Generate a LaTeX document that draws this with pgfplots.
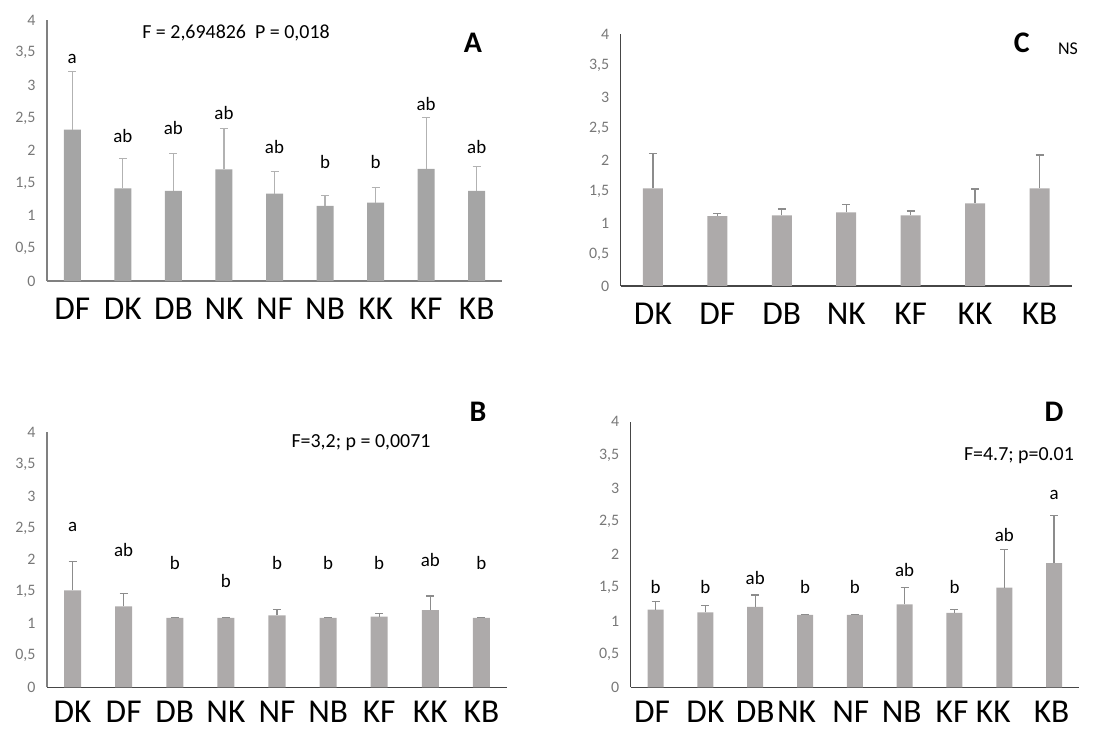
\documentclass[border=0pt]{standalone}
\usepackage{fontspec}
\setmainfont{Carlito}
\usepackage{pgfplots}
\pgfplotsset{compat=1.18}
\definecolor{barA}{RGB}{165,165,165}
\definecolor{barB}{RGB}{173,170,170}
\definecolor{errA}{RGB}{178,178,178}
\definecolor{errB}{RGB}{140,140,140}
\definecolor{axA}{RGB}{128,128,128}
\definecolor{axB}{RGB}{70,70,70}
\definecolor{tickc}{RGB}{120,120,120}
\tikzset{lab/.style={font=\fontsize{19}{22}\selectfont, anchor=center, inner sep=0pt}}
\pgfplotsset{
  panel/.style={
    scale only axis, clip=false,
    ymin=0, ymax=4,
    ytick={0,0.5,1,1.5,2,2.5,3,3.5,4},
    yticklabels={0,{0,5},1,{1,5},2,{2,5},3,{3,5},4},
    axis x line*=bottom, axis y line*=left,
    major tick length=0pt,
    enlarge x limits=false,
    yticklabel style={font=\fontsize{16}{18}\selectfont, text=tickc, xshift=-8bp},
    xticklabel style={font=\fontsize{33.5}{38}\selectfont, text=black, inner sep=0pt, text depth=0pt, yshift=-17bp},
    ybar, bar shift=0pt,
    /pgf/number format/assume math mode=true,
  },
  errs/.style={
    error bars/.cd, y dir=plus, y explicit,
    error bar style={line width=1.3bp, draw=#1},
    error mark options={rotate=90, mark size=4bp, line width=1.3bp, draw=#1},
  },
}
\begin{document}
\begin{tikzpicture}[x=1bp,y=1bp]
\path[use as bounding box] (0,0) rectangle (1109,731);

% ---------------- Panel A
\begin{axis}[panel, at={(47bp,450bp)}, anchor=south west,
  width=455bp, height=261bp,
  xmin=-0.5, xmax=8.5, xtick={0,...,8},
  xticklabels={DF,DK,DB,NK,NF,NB,KK,KF,KB},
  x axis line style={draw=axA, line width=1.3bp},
  y axis line style={draw=axA, line width=1.3bp},
  bar width=17bp]
\addplot[fill=barA, draw=none, errs=errA] coordinates {
 (0,2.32) +- (0,0.89)
 (1,1.42) +- (0,0.46)
 (2,1.38) +- (0,0.57)
 (3,1.71) +- (0,0.63)
 (4,1.34) +- (0,0.34)
 (5,1.15) +- (0,0.16)
 (6,1.20) +- (0,0.23)
 (7,1.72) +- (0,0.79)
 (8,1.38) +- (0,0.37)
};
\node[lab] at (axis cs:0,3.41) {a};
\node[lab] at (axis cs:1,2.22) {ab};
\node[lab] at (axis cs:2,2.35) {ab};
\node[lab] at (axis cs:3,2.58) {ab};
\node[lab] at (axis cs:4,2.06) {ab};
\node[lab] at (axis cs:5,1.83) {b};
\node[lab] at (axis cs:6,1.83) {b};
\node[lab] at (axis cs:7,2.72) {ab};
\node[lab] at (axis cs:8,2.06) {ab};
\end{axis}
\node[font=\fontsize{20}{24}\selectfont, inner sep=0pt] at (236,698) {F = 2,694826\ \ P = 0,018};
\node[font=\fontsize{30}{34}\selectfont\bfseries, inner sep=0pt] at (473,688) {A};

% ---------------- Panel C
\begin{axis}[panel, at={(620.7bp,445bp)}, anchor=south west,
  width=451bp, height=252bp,
  xmin=-0.5, xmax=6.5, xtick={0,...,6},
  xticklabels={DK,DF,DB,NK,KF,KK,KB},
  x axis line style={draw=axB, line width=1.2bp},
  y axis line style={draw=axB, line width=1.2bp},
  bar width=20bp]
\addplot[fill=barB, draw=none, errs=errB] coordinates {
 (0,1.55) +- (0,0.55)
 (1,1.11) +- (0,0.04)
 (2,1.12) +- (0,0.10)
 (3,1.17) +- (0,0.12)
 (4,1.12) +- (0,0.07)
 (5,1.31) +- (0,0.23)
 (6,1.55) +- (0,0.53)
};
\end{axis}
\node[font=\fontsize{30}{34}\selectfont\bfseries, inner sep=0pt] at (1021.7,688) {C};
\node[font=\fontsize{18}{20}\selectfont, inner sep=0pt] at (1068,682) {NS};

% ---------------- Panel B
\begin{axis}[panel, at={(47bp,43.7bp)}, anchor=south west,
  width=460bp, height=255bp,
  xmin=-0.5, xmax=8.5, xtick={0,...,8},
  xticklabels={DK,DF,DB,NK,NF,NB,KF,KK,KB},
  xticklabel style={yshift=3bp},
  x axis line style={draw=axB, line width=1.2bp},
  y axis line style={draw=axA, line width=1.2bp},
  bar width=17bp]
\addplot[fill=barB, draw=none, errs=errB] coordinates {
 (0,1.52) +- (0,0.45)
 (1,1.27) +- (0,0.20)
 (2,1.09) +- (0,0)
 (3,1.09) +- (0,0)
 (4,1.13) +- (0,0.09)
 (5,1.09) +- (0,0)
 (6,1.11) +- (0,0.05)
 (7,1.21) +- (0,0.22)
 (8,1.09) +- (0,0)
};
\node[lab] at (axis cs:0,2.52) {a};
\node[lab] at (axis cs:1,2.16) {ab};
\node[lab] at (axis cs:2,1.95) {b};
\node[lab] at (axis cs:3,1.66) {b};
\node[lab] at (axis cs:4,1.95) {b};
\node[lab] at (axis cs:5,1.95) {b};
\node[lab] at (axis cs:6,1.95) {b};
\node[lab] at (axis cs:7,2.00) {ab};
\node[lab] at (axis cs:8,1.95) {b};
\end{axis}
\node[font=\fontsize{30}{34}\selectfont\bfseries, inner sep=0pt] at (478,319) {B};
\node[font=\fontsize{20}{24}\selectfont, inner sep=0pt] at (361,288) {F=3,2; p = 0,0071};

% ---------------- Panel D
\begin{axis}[panel, at={(630.7bp,43.7bp)}, anchor=south west,
  width=448.3bp, height=265.6bp,
  xmin=-0.5, xmax=8.5,
  xtick={-0.07,1,2,2.83,3.92,4.94,5.95,6.78,7.95},
  xticklabels={DF,DK,DB,NK,NF,NB,KF,KK,KB},
  xticklabel style={yshift=3bp},
  x axis line style={draw=axB, line width=1.2bp},
  y axis line style={draw=axB, line width=1.2bp},
  bar width=16bp]
\addplot[fill=barB, draw=none, errs=errB] coordinates {
 (0,1.17) +- (0,0.12)
 (1,1.13) +- (0,0.10)
 (2,1.21) +- (0,0.18)
 (3,1.09) +- (0,0.01)
 (4,1.09) +- (0,0.01)
 (5,1.25) +- (0,0.25)
 (6,1.12) +- (0,0.05)
 (7,1.50) +- (0,0.57)
 (8,1.87) +- (0,0.72)
};
\node[lab] at (axis cs:0,1.51) {b};
\node[lab] at (axis cs:1,1.51) {b};
\node[lab] at (axis cs:2,1.65) {ab};
\node[lab] at (axis cs:3,1.51) {b};
\node[lab] at (axis cs:4,1.51) {b};
\node[lab] at (axis cs:5,1.76) {ab};
\node[lab] at (axis cs:6,1.51) {b};
\node[lab] at (axis cs:7,2.30) {ab};
\node[lab] at (axis cs:8,2.90) {a};
\end{axis}
\node[font=\fontsize{30}{34}\selectfont\bfseries, inner sep=0pt] at (1054,319) {D};
\node[font=\fontsize{20}{24}\selectfont, inner sep=0pt] at (1019,275) {F=4.7; p=0.01};
\end{tikzpicture}
\end{document}
